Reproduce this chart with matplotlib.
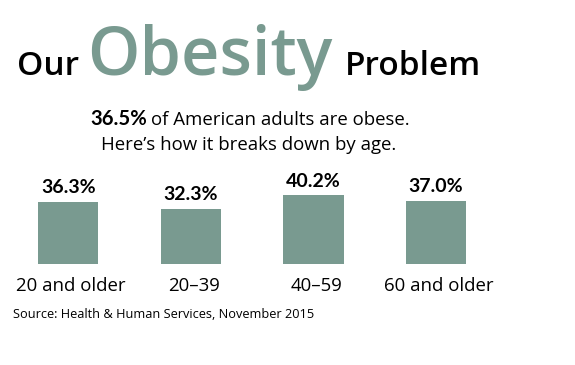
import matplotlib
matplotlib.use("Agg")
import matplotlib.pyplot as plt

# data
age_groups = ["20 and older", "20\u201339", "40\u201359", "60 and older"]
obese_pct = [36.3, 32.3, 40.2, 37.0]
overall_pct = 36.5

GREEN = "#799a90"
W, H = 575, 365
BOLD_FONT = ["Lato", "DejaVu Sans"]   # Open Sans bold sirf condensed mila

plt.rcParams["font.family"] = ["Open Sans", "DejaVu Sans"]

fig = plt.figure(figsize=(W / 100, H / 100), dpi=100)
fig.patch.set_facecolor("white")


def fx(px):
    return px / W


def fy(py):
    # pixel from top -> figure fraction
    return (H - py) / H


# title pieces
fig.text(fx(17), fy(75), "Our", fontsize=24, fontweight="semibold",
         color="black", va="baseline", ha="left")
fig.text(fx(87), fy(75), "Obesity", fontsize=48, fontweight="semibold",
         color=GREEN, va="baseline", ha="left")
fig.text(fx(345), fy(75), "Problem", fontsize=24, fontweight="semibold",
         color="black", va="baseline", ha="left")

# subtitle, first part bold
t1 = fig.text(fx(90), fy(125), f"{overall_pct}%", fontsize=14.6,
              fontweight="bold", family=BOLD_FONT, va="baseline", ha="left")
fig.canvas.draw()
bb = t1.get_window_extent()
fig.text(bb.x1 / W + fx(4), fy(125), "of American adults are obese.",
         fontsize=13.4, va="baseline", ha="left")
fig.text(fx(248.5), fy(150), "Here\u2019s how it breaks down by age.",
         fontsize=13.4, va="baseline", ha="center")

# bars
ax = fig.add_axes([fx(7), fy(264), 490.4 / W, 85.8 / H])
x = range(len(age_groups))
ax.bar(x, obese_pct, width=0.49, color=GREEN)
ax.set_xlim(-0.5, 3.5)
ax.set_ylim(0, 50)
ax.axis("off")

for i, v in enumerate(obese_pct):
    ax.annotate(f"{v:.1f}%", xy=(i, v), xytext=(0, 6), textcoords="offset points",
                ha="center", va="baseline", fontsize=14, fontweight="bold",
                family=BOLD_FONT)
    ax.annotate(age_groups[i], xy=(i, 0), xytext=(2, -19.6),
                textcoords="offset points", ha="center", va="baseline",
                fontsize=13.4)

fig.text(fx(13), fy(317.7), "Source: Health & Human Services, November 2015",
         fontsize=9.2, va="baseline", ha="left")

fig.savefig("out.png", dpi=100, facecolor="white")
